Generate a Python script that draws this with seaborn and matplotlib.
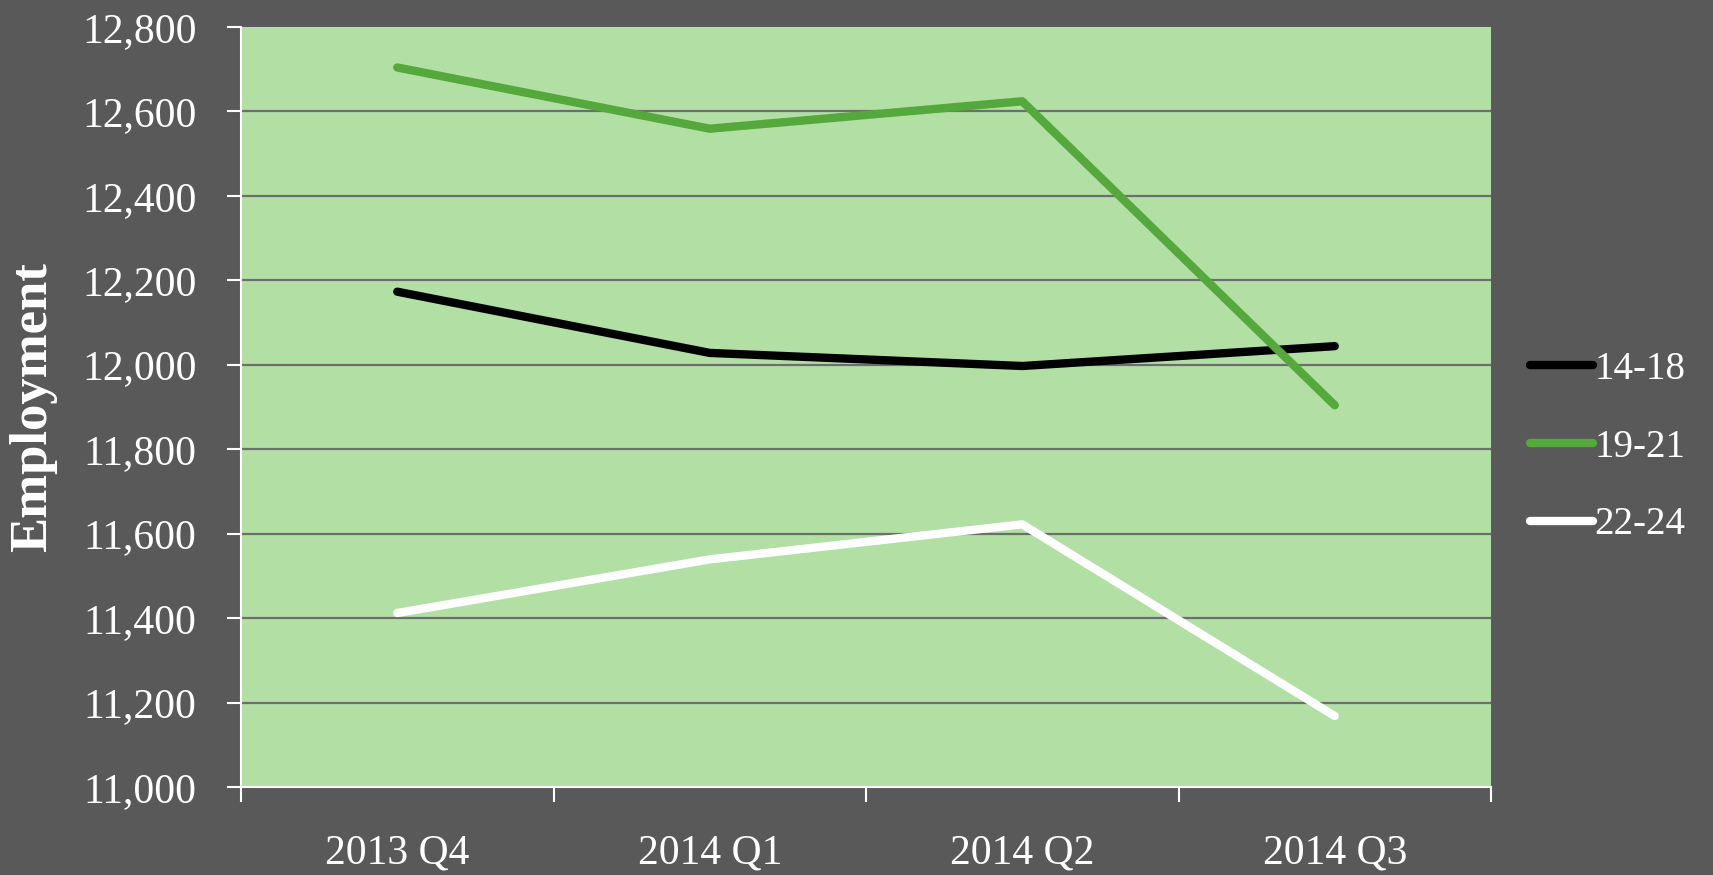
import matplotlib
matplotlib.use("Agg")
import matplotlib.pyplot as plt
import seaborn as sns
import pandas as pd
from matplotlib.lines import Line2D

quarters = ["2013 Q4", "2014 Q1", "2014 Q2", "2014 Q3"]
series_names = ["14-18", "19-21", "22-24"]
emp_14_18 = [12173, 12028, 11997, 12044]
emp_19_21 = [12704, 12559, 12624, 11904]
emp_22_24 = [11412, 11539, 11622, 11168]
y_ticks = [11000, 11200, 11400, 11600, 11800, 12000, 12200, 12400, 12600, 12800]

colors = {"14-18": "#000000", "19-21": "#55a83b", "22-24": "#ffffff"}

rows = []
for name, vals in zip(series_names, [emp_14_18, emp_19_21, emp_22_24]):
    for q, v in zip(quarters, vals):
        rows.append({"Quarter": q, "Employment": v, "Age": name})
df = pd.DataFrame(rows)

sns.set_theme(style="white")
plt.rcParams["font.family"] = ["Liberation Serif", "DejaVu Serif"]

BG = "#595959"
LW = 6.0
fig = plt.figure(figsize=(17.13, 8.75), dpi=100, facecolor=BG)
ax_box = [0.1407, 0.1006, 0.7297, 0.8686]
ax = fig.add_axes(ax_box)
ax.set_facecolor("#b1dfa4")

sns.lineplot(data=df, x="Quarter", y="Employment", hue="Age",
             palette=colors, hue_order=series_names, linewidth=LW,
             ax=ax, legend=False, sort=False)
for ln in ax.lines:
    ln.set_solid_capstyle("round")

ax.set_ylim(11000, 12800)
ax.set_xlim(-0.5, 3.5)
ax.set_yticks(y_ticks)
ax.set_yticklabels([f"{v:,}" for v in y_ticks])
ax.set_xticks(range(len(quarters)))
ax.set_xticklabels(quarters)
ax.set_xticks([-0.5, 0.5, 1.5, 2.5, 3.5], minor=True)

ax.yaxis.grid(True, color="#6e6e6e", linewidth=1.6)
ax.set_axisbelow(True)
ax.get_ygridlines()[-1].set_visible(False)
ax.get_ygridlines()[0].set_visible(False)

for s in ["top", "right"]:
    ax.spines[s].set_visible(False)
for s in ["left", "bottom"]:
    ax.spines[s].set_color("white")
    ax.spines[s].set_linewidth(1.5)

ax.tick_params(axis="y", which="major", length=10, width=1.5, color="white",
               labelcolor="white", labelsize=30, pad=22, left=True)
ax.tick_params(axis="x", which="major", length=0, labelcolor="white",
               labelsize=30, pad=34)
ax.tick_params(axis="x", which="minor", length=11, width=1.5, color="white",
               bottom=True)

ax.set_xlabel("")
ax.set_ylabel("")
fig.text(33 / 1713, ax_box[1] + ax_box[3] / 2, "Employment", color="white",
         fontsize=38, fontweight="bold", rotation=90, ha="center", va="center")

handles = [Line2D([0], [0], color=colors[n], linewidth=LW,
                  solid_capstyle="round") for n in series_names]
leg = fig.legend(handles, series_names, loc="center left",
                 bbox_to_anchor=(0.873, 0.489), frameon=False,
                 handlelength=1.6, handletextpad=0.05, labelspacing=1.05,
                 fontsize=28)
for t in leg.get_texts():
    t.set_color("white")

fig.savefig("out.png", dpi=100, facecolor=BG)
